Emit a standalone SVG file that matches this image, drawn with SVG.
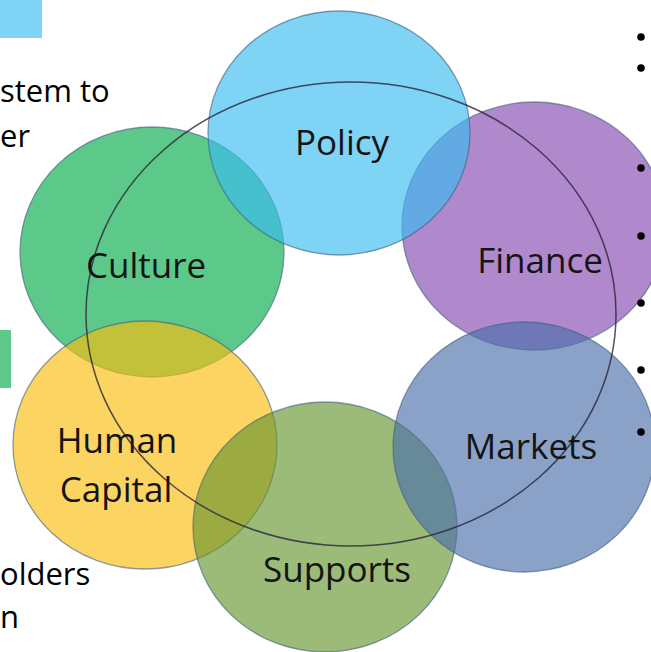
<svg xmlns="http://www.w3.org/2000/svg" width="651" height="652" viewBox="0 0 651 652">
  <style>
    .c { fill-opacity: 0.65; stroke: #3d5f80; stroke-opacity: 0.6; stroke-width: 1.3; }
    .lbl { font-family: "Open Sans", "Noto Sans", sans-serif; font-size: 35px; fill: #141414; text-anchor: middle; }
    .side { font-family: "Open Sans", "Noto Sans", sans-serif; font-size: 31px; fill: #000; }
    .bul { fill: #000; }
  </style>
  <rect width="651" height="652" fill="#ffffff"/>
  <rect x="0" y="0" width="42" height="38" fill="#7fd3f5"/>
  <rect x="0" y="330" width="11" height="58" fill="#5cc98a"/>
  <text class="side" x="0" y="102">stem to</text>
  <text class="side" x="0" y="147">er</text>
  <text class="side" x="0" y="585">olders</text>
  <text class="side" x="0" y="628">n</text>
  <g id="culture"><ellipse class="c" cx="152" cy="252" rx="132" ry="125" fill="#05ac4b"/></g>
  <g id="finance"><ellipse class="c" cx="534" cy="226" rx="132" ry="124" fill="#8648b1"/></g>
  <g id="policy"><ellipse class="c" cx="339" cy="133" rx="131" ry="122" fill="#3abcf0"/></g>
  <g id="human-capital"><ellipse class="c" cx="145" cy="445" rx="132" ry="124" fill="#fbbd0e"/></g>
  <g id="supports"><ellipse class="c" cx="325" cy="527" rx="132" ry="125" fill="#679530"/></g>
  <g id="markets"><ellipse class="c" cx="524" cy="447" rx="131" ry="125" fill="#4b70ab"/></g>
  <g id="connectors">
    <ellipse cx="351" cy="314" rx="265" ry="232" fill="none" stroke="#2a2438" stroke-opacity="0.8" stroke-width="1.5"/>
  </g>
  <g id="labels">
    <text class="lbl" x="342" y="155">Policy</text>
    <text class="lbl" x="146" y="278">Culture</text>
    <text class="lbl" x="540" y="273">Finance</text>
    <text class="lbl" x="531" y="459">Markets</text>
    <text class="lbl" x="117" y="453">Human</text>
    <text class="lbl" x="116" y="502">Capital</text>
    <text class="lbl" x="337" y="582">Supports</text>
  </g>
  <g id="bullets">
    <circle class="bul" cx="641" cy="37" r="3.8"/>
    <circle class="bul" cx="641" cy="68" r="3.8"/>
    <circle class="bul" cx="641" cy="168" r="3.8"/>
    <circle class="bul" cx="641" cy="236" r="3.8"/>
    <circle class="bul" cx="641" cy="303" r="3.8"/>
    <circle class="bul" cx="641" cy="370" r="3.8"/>
    <circle class="bul" cx="641" cy="432" r="3.8"/>
  </g>
</svg>
